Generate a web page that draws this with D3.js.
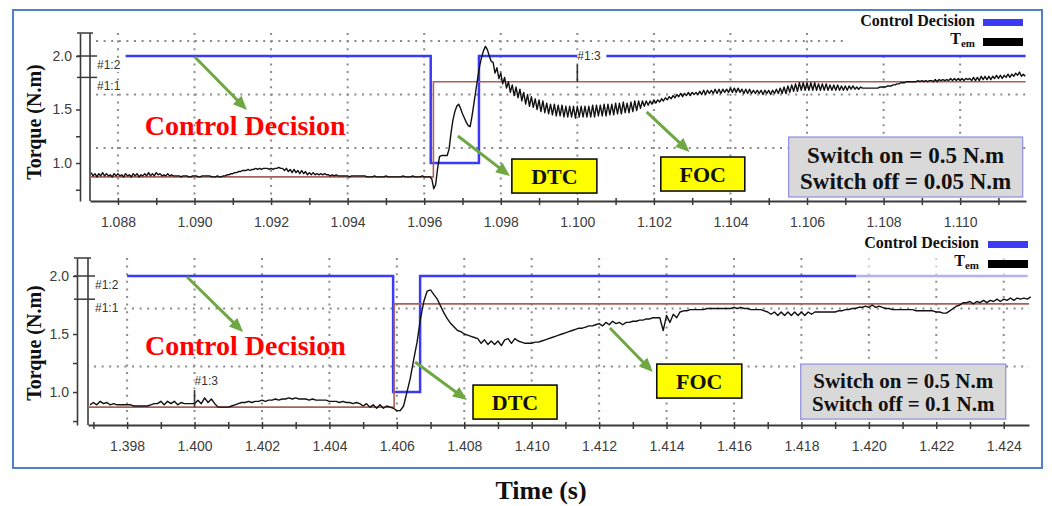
<!DOCTYPE html>
<html>
<head>
<meta charset="utf-8">
<script src="https://cdn.jsdelivr.net/npm/d3@7"></script>
<style>
  body { margin: 0; background: #fff; }
  svg { display: block; }
</style>
</head>
<body>
<svg id="chart" width="1052" height="506"></svg>
<script>
// ---------------- data ----------------
// Tick labels
const topTimeLabels = ["1.088","1.090","1.092","1.094","1.096","1.098","1.100","1.102","1.104","1.106","1.108","1.110"];
const bottomTimeLabels = ["1.398","1.400","1.402","1.404","1.406","1.408","1.410","1.412","1.414","1.416","1.418","1.420","1.422","1.424"];
const torqueLabels = ["1.0","1.5","2.0"];
const torqueTickValues = [0.75, 1.0, 1.25, 1.5, 2.0];

// Control decision (2 = FOC, 1 = DTC), step signal: switch times and levels
const topDecisionTimes  = [1.0882, 1.09617, 1.09743, 1.11171];
const topDecisionLevels = [2.0, 1.0, 2.0, 2.0];
const bottomDecisionTimes  = [1.3980, 1.40589, 1.40669, 1.42471];
const bottomDecisionLevels = [2.0, 1.0, 2.0, 2.0];

// Torque reference step (N.m)
const topRefTimes  = [1.08727, 1.09624, 1.11171];
const topRefLevels = [0.87, 1.76, 1.76];
const bottomRefTimes  = [1.39684, 1.40592, 1.42475];
const bottomRefLevels = [0.87, 1.76, 1.76];

// Cursor markers
const cursorLevels = [2.0, 1.8];           // #1:2, #1:1
const cursorNames  = ["#1:2", "#1:1"];
const topCursorTime = 1.100;                // #1:3
const bottomCursorTime = 1.400;

// Horizontal grid levels (N.m)
const topGridLevels = [1.14, 1.64, 2.14];
const bottomGridLevels = [1.22, 1.72];

// Electromagnetic torque, sampled traces in units of 0.01 N.m
const topTemStart = 1.0873, topTemStep = 0.00005;
const topTem = [
  91,88,90,87,90,88,91,88,90,88,89,87,90,88,90,88,89,87,90,88,
  89,87,90,88,90,87,89,88,90,88,91,88,90,88,91,89,90,88,89,88,
  90,88,89,88,88,88,88,87,88,88,88,87,87,88,88,88,87,87,88,88,
  88,88,88,87,87,87,88,87,87,88,88,89,89,90,90,91,91,92,92,93,
  93,93,94,93,94,94,95,94,95,94,95,95,95,94,95,94,95,95,96,95,
  95,93,95,92,94,91,94,91,93,90,93,90,92,89,91,89,91,89,90,89,
  90,89,90,89,89,88,89,88,89,88,88,88,88,88,88,87,88,88,88,88,
  88,88,88,88,87,87,87,87,88,87,87,87,87,87,88,87,87,87,87,87,
  87,87,87,88,87,87,87,87,88,87,87,87,87,88,87,87,87,87,85,76,
  80,95,106,107,107,107,107,113,128,140,148,153,155,151,146,142,138,135,134,144,
  156,168,180,191,199,205,209,206,200,195,194,184,189,179,184,174,180,170,176,166,
  173,163,171,161,169,158,166,155,164,153,162,152,160,150,159,148,158,147,156,146,
  155,145,155,144,154,144,154,143,153,143,153,143,153,142,153,143,153,143,153,143,
  153,143,154,143,154,144,154,144,155,144,155,145,155,145,156,146,156,146,157,147,
  156,147,157,148,158,149,158,151,158,153,158,154,158,155,159,156,159,157,160,158,
  161,159,162,160,163,161,164,162,165,162,165,163,166,163,166,164,166,164,167,164,
  168,164,168,165,168,165,169,165,169,165,169,166,169,166,170,166,170,166,170,166,
  169,165,169,165,169,165,168,165,168,165,168,164,168,165,168,164,168,165,169,165,
  170,165,171,165,172,166,173,167,174,167,175,168,175,168,175,168,175,168,175,168,
  174,168,174,168,174,168,173,168,173,168,173,168,172,168,172,168,172,169,172,169,
  171,169,171,170,170,170,170,170,170,170,170,170,171,171,171,171,172,172,172,173,
  173,174,174,175,175,175,176,176,176,176,176,176,177,176,177,176,177,176,177,177,
  176,178,176,178,177,178,177,178,177,179,177,179,177,179,177,179,177,179,178,179,
  177,180,177,180,177,181,178,181,178,181,178,181,179,182,179,182,179,182,180,183,
  180,183,181,184,182,185,181,183,181
];
const bottomTemStart = 1.3969, bottomTemStep = 0.0001;
const bottomTem = [
  89,91,89,92,90,91,89,90,89,89,
  89,89,89,88,88,88,88,88,89,90,
  90,92,89,92,90,92,89,91,90,90,
  90,90,93,90,95,91,94,90,87,87,
  87,87,88,89,90,91,91,92,91,92,
  92,93,92,93,93,94,93,94,94,95,
  94,95,94,94,94,93,94,93,93,93,
  93,92,92,92,91,92,91,91,90,91,
  90,88,90,87,89,86,89,86,88,87,
  86,84,84,88,100,112,128,143,163,178,
  187,188,184,180,174,168,163,159,156,153,
  152,150,149,148,147,146,142,145,141,144,
  141,144,140,145,146,142,146,144,143,142,
  142,142,143,143,144,145,146,147,148,149,
  150,151,152,153,154,155,155,156,157,157,
  158,159,157,160,158,161,159,160,158,160,
  160,161,161,162,162,163,163,164,164,164,
  153,166,160,167,164,169,170,170,171,171,
  171,171,171,172,172,172,172,172,172,172,
  172,173,172,173,172,172,171,171,171,171,
  170,169,167,169,166,169,166,169,166,169,
  166,169,166,169,167,169,169,169,169,169,
  169,169,170,170,171,171,172,172,173,173,
  174,173,175,173,174,173,172,172,171,171,
  171,171,171,171,171,170,170,170,170,170,
  170,169,169,168,168,170,172,174,175,177,
  177,178,176,178,177,179,177,179,178,180,
  178,180,179,181,179,181,180,181,180,182
];

// ---------------- styles ----------------
const SERIF = "'Liberation Serif','Times New Roman',serif";
const SANS = "'Liberation Sans',Arial,sans-serif";
const BLUE = "#3b3bf6", REF = "#a8605a", BLACK = "#111", GREEN = "#6fa843", GRID = "#8a8a8a";

const svg = d3.select("#chart");
svg.append("rect").attr("width", 1052).attr("height", 506).attr("fill", "#fff");

// ---------------- panels ----------------
const panels = [
  {
    timeLabels: topTimeLabels, tDomain: [1.08727, 1.11172], vDomain: [0.645, 2.215],
    left: 90, right: 1026, top: 33, base: 201, axisX: 80,
    grid: topGridLevels, decT: topDecisionTimes, decV: topDecisionLevels,
    refT: topRefTimes, refV: topRefLevels, tem: topTem, t0: topTemStart, dt: topTemStep,
    cursorT: topCursorTime, titleY: 122,
    legend: { bg: [848, 10, 180, 43, 1], textX: 975, y0: 26, dy: 20, swX: 983 },
    notes: {
      label: [1.0887, 1.262],
      arrows: [[[1.09001, 1.991], [1.09137, 1.495]], [[1.09688, 1.252], [1.09824, 0.879]], [[1.10181, 1.477], [1.10293, 1.103]]],
      dtc: [1.09829, 1.037, 85, 34], foc: [1.10218, 1.056, 84, 34],
      box: [1.10552, 1.243, 234, 60], boxText: ["Switch on = 0.5 N.m", "Switch off = 0.05 N.m"], boxFont: 23
    }
  },
  {
    timeLabels: bottomTimeLabels, tDomain: [1.39684, 1.42475], vDomain: [0.716, 2.155],
    left: 88, right: 1029, top: 258, base: 425, axisX: 77,
    grid: bottomGridLevels, decT: bottomDecisionTimes, decV: bottomDecisionLevels,
    refT: bottomRefTimes, refV: bottomRefLevels, tem: bottomTem, t0: bottomTemStart, dt: bottomTemStep,
    cursorT: bottomCursorTime, titleY: 343,
    legend: { bg: [856, 229, 174, 49, 0.6], textX: 979, y0: 248, dy: 20, swX: 988 },
    notes: {
      label: [1.39853, 1.319],
      arrows: [[[1.39978, 1.991], [1.40144, 1.517]], [[1.40654, 1.259], [1.40808, 0.931]], [[1.41232, 1.552], [1.41359, 1.172]]],
      dtc: [1.40826, 1.060, 84, 34], foc: [1.41371, 1.241, 85, 34],
      box: [1.41798, 1.241, 205, 55], boxText: ["Switch on = 0.5 N.m", "Switch off = 0.1 N.m"], boxFont: 21
    }
  }
];

function arrow(g, p0, p1) {
  const dx = p1[0] - p0[0], dy = p1[1] - p0[1];
  const len = Math.hypot(dx, dy), ux = dx / len, uy = dy / len;
  const L = 14, W = 12;
  g.append("line").attr("x1", p0[0]).attr("y1", p0[1])
    .attr("x2", p1[0] - ux * L * 0.8).attr("y2", p1[1] - uy * L * 0.8)
    .attr("stroke", GREEN).attr("stroke-width", 3);
  const bx = p1[0] - ux * L, by = p1[1] - uy * L;
  g.append("polygon").attr("fill", GREEN).attr("points", [
    [p1[0], p1[1]], [bx - uy * W / 2, by + ux * W / 2], [bx + uy * W / 2, by - ux * W / 2]
  ].map(d => d.join(",")).join(" "));
}

panels.forEach(p => {
  const x = d3.scaleLinear().domain(p.tDomain).range([p.left, p.right]);
  const y = d3.scaleLinear().domain(p.vDomain).range([p.base, p.top]);
  const g = svg.append("g");

  // dotted grid
  const majors = p.timeLabels.map(Number);
  g.append("g").selectAll("line").data(majors).join("line")
    .attr("x1", d => x(d)).attr("x2", d => x(d)).attr("y1", p.top).attr("y2", p.base - 2)
    .attr("stroke", GRID).attr("stroke-width", 2).attr("stroke-dasharray", "2 5.6");
  g.append("g").selectAll("line").data(p.grid).join("line")
    .attr("x1", p.left + 6).attr("x2", p.right).attr("y1", d => y(d)).attr("y2", d => y(d))
    .attr("stroke", GRID).attr("stroke-width", 2).attr("stroke-dasharray", "2 5.6");

  // x axis, ticks every 0.001 s, labels every 0.002 s
  const minor = [];
  majors.forEach(d => { minor.push(d - 0.001, d); });
  minor.push(majors[majors.length - 1] + 0.001);
  const xTicks = minor.filter(d => d >= p.tDomain[0] && d <= p.tDomain[1]);
  const xAxis = d3.axisBottom(x).tickValues(xTicks).tickSizeInner(4).tickSizeOuter(0).tickPadding(12)
    .tickFormat(d => { const s = d.toFixed(3); return p.timeLabels.includes(s) ? s : ""; });
  const xa = g.append("g").attr("transform", `translate(0,${p.base})`).call(xAxis);
  xa.select(".domain").attr("stroke", "#3a3a3a").attr("stroke-width", 2);
  xa.selectAll(".tick line").attr("y1", -3).attr("y2", 4).attr("stroke", "#3a3a3a").attr("stroke-width", 1.5);
  xa.selectAll(".tick text").attr("font-family", SANS).attr("font-size", 14).attr("fill", "#3c3c3c");

  // outer y axis
  const yAxis = d3.axisLeft(y).tickValues(torqueTickValues).tickSizeInner(4).tickSizeOuter(0).tickPadding(4)
    .tickFormat(d => torqueLabels.includes(d.toFixed(1)) ? d.toFixed(1) : "");
  const ya = g.append("g").attr("transform", `translate(${p.axisX},0)`).call(yAxis);
  ya.select(".domain").attr("stroke", "#3a3a3a").attr("stroke-width", 1.6);
  ya.selectAll(".tick line").attr("stroke", "#3a3a3a").attr("stroke-width", 1.5);
  ya.selectAll(".tick text").attr("font-family", SANS).attr("font-size", 14).attr("fill", "#3c3c3c");
  g.append("line").attr("x1", p.axisX - 3).attr("x2", p.left + 3).attr("y1", p.top).attr("y2", p.top)
    .attr("stroke", "#3a3a3a").attr("stroke-width", 1.5);
  // plot left border
  g.append("line").attr("x1", p.left).attr("x2", p.left).attr("y1", p.top).attr("y2", p.base)
    .attr("stroke", "#3a3a3a").attr("stroke-width", 1.6);

  // level cursors #1:2 / #1:1
  cursorLevels.forEach((lv, i) => {
    const yy = y(lv);
    g.append("rect").attr("x", p.left + 6).attr("y", yy + 3).attr("width", 29).attr("height", 13).attr("fill", "#fff");
    g.append("line").attr("x1", p.axisX - 3).attr("x2", p.left + 7).attr("y1", yy).attr("y2", yy)
      .attr("stroke", "#3a3a3a").attr("stroke-width", 1.5);
    g.append("text").attr("x", p.left + 7).attr("y", yy + 13).text(cursorNames[i])
      .attr("font-family", SANS).attr("font-size", 12).attr("fill", "#333");
  });

  // control decision (blue), reference (brown), torque (black)
  const stepLine = d3.line().curve(d3.curveStepAfter).x(d => x(d[0])).y(d => y(d[1]));
  g.append("path").attr("d", stepLine(p.decT.map((t, i) => [t, p.decV[i]])))
    .attr("fill", "none").attr("stroke", BLUE).attr("stroke-width", 2.5);
  g.append("path").attr("d", stepLine(p.refT.map((t, i) => [t, p.refV[i]])))
    .attr("fill", "none").attr("stroke", REF).attr("stroke-width", 1.6);
  const temLine = d3.line().x((d, i) => x(p.t0 + i * p.dt)).y(d => y(d / 100));
  g.append("path").attr("d", temLine(p.tem))
    .attr("fill", "none").attr("stroke", BLACK).attr("stroke-width", 1.4).attr("stroke-linejoin", "round");

  // time cursor #1:3
  const cx = x(p.cursorT);
  const refAtCursor = p.refV[d3.bisectRight(p.refT, p.cursorT) - 1];
  const cy = y(refAtCursor);
  g.append("line").attr("x1", cx).attr("x2", cx).attr("y1", cy).attr("y2", cy - 17)
    .attr("stroke", "#333").attr("stroke-width", 1.6);
  g.append("rect").attr("x", cx).attr("y", cy - 32).attr("width", 29).attr("height", 13).attr("fill", "#fff");
  g.append("text").attr("x", cx).attr("y", cy - 22).text("#1:3")
    .attr("font-family", SANS).attr("font-size", 12).attr("fill", "#333");

  // legend
  const L = p.legend;
  g.append("rect").attr("x", L.bg[0]).attr("y", L.bg[1]).attr("width", L.bg[2]).attr("height", L.bg[3])
    .attr("fill", "#fff").attr("opacity", L.bg[4]);
  g.append("text").attr("x", L.textX).attr("y", L.y0).attr("text-anchor", "end").text("Control Decision")
    .attr("font-family", SERIF).attr("font-weight", "bold").attr("font-size", 16).attr("fill", "#111");
  g.append("rect").attr("x", L.swX).attr("y", L.y0 - 7).attr("width", 40).attr("height", 7).attr("fill", BLUE);
  const tem = g.append("text").attr("x", L.textX).attr("y", L.y0 + L.dy - 2).attr("text-anchor", "end")
    .attr("font-family", SERIF).attr("font-weight", "bold").attr("font-size", 16).attr("fill", "#111");
  tem.append("tspan").text("T");
  tem.append("tspan").attr("font-size", 11).attr("dy", 3).text("em");
  g.append("rect").attr("x", L.swX).attr("y", L.y0 + L.dy - 8).attr("width", 40).attr("height", 8).attr("fill", "#000");

  // y title
  g.append("text").attr("transform", `translate(41,${p.titleY}) rotate(-90)`).attr("text-anchor", "middle")
    .text("Torque (N.m)").attr("font-family", SERIF).attr("font-weight", "bold").attr("font-size", 20).attr("fill", "#111");

  // annotations
  const N = p.notes;
  N.arrows.forEach(a => arrow(g, [x(a[0][0]), y(a[0][1])], [x(a[1][0]), y(a[1][1])]));
  g.append("text").attr("x", x(N.label[0])).attr("y", y(N.label[1])).text("Control Decision")
    .attr("font-family", SERIF).attr("font-weight", "bold").attr("font-size", 28).attr("fill", "#ff0000");
  [[N.dtc, "DTC"], [N.foc, "FOC"]].forEach(([b, txt]) => {
    const bx = x(b[0]), by = y(b[1]);
    g.append("rect").attr("x", bx).attr("y", by).attr("width", b[2]).attr("height", b[3])
      .attr("fill", "#ffff00").attr("stroke", "#111").attr("stroke-width", 1.6);
    g.append("text").attr("x", bx + b[2] / 2).attr("y", by + b[3] / 2 + 8).attr("text-anchor", "middle").text(txt)
      .attr("font-family", SERIF).attr("font-weight", "bold").attr("font-size", 22).attr("fill", "#111");
  });
  const bx = x(N.box[0]), by = y(N.box[1]), bw = N.box[2], bh = N.box[3];
  g.append("rect").attr("x", bx).attr("y", by).attr("width", bw).attr("height", bh)
    .attr("fill", "#d9d9d9").attr("stroke", "#8f8fe0").attr("stroke-width", 1.2);
  N.boxText.forEach((s, i) => {
    g.append("text").attr("x", bx + bw / 2).attr("y", by + bh * (i === 0 ? 0.43 : 0.86)).attr("text-anchor", "middle").text(s)
      .attr("font-family", SERIF).attr("font-weight", "bold").attr("font-size", N.boxFont).attr("fill", "#111");
  });
});

// shared x title and outer frame
svg.append("text").attr("x", 541).attr("y", 499).attr("text-anchor", "middle").text("Time (s)")
  .attr("font-family", SERIF).attr("font-weight", "bold").attr("font-size", 26).attr("fill", "#111");
svg.append("rect").attr("x", 13).attr("y", 10).attr("width", 1029).attr("height", 458)
  .attr("fill", "none").attr("stroke", "#4f81c9").attr("stroke-width", 2);
</script>
</body>
</html>
